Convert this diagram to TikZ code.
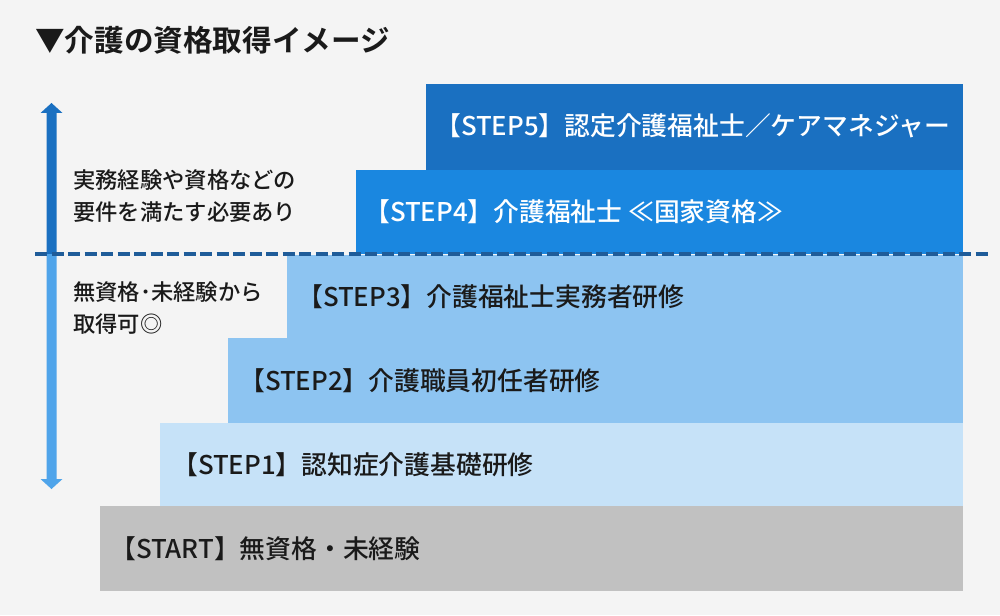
\documentclass[tikz,border=0pt]{standalone}
\usepackage{fontspec}
\setmainfont{Noto Sans CJK JP}[BoldFont={Noto Sans CJK JP Medium}]
\newfontfamily\heavyfont{Noto Sans CJK JP Bold}
\definecolor{bg}{HTML}{F4F4F4}
\definecolor{cstart}{HTML}{C1C1C1}
\definecolor{cone}{HTML}{C6E2F8}
\definecolor{cmid}{HTML}{8DC4F1}
\definecolor{cfour}{HTML}{1A87E0}
\definecolor{cfive}{HTML}{1A70C1}
\definecolor{carrow}{HTML}{4FA4EA}
\definecolor{cdash}{HTML}{1F5C99}
\definecolor{ctext}{HTML}{1A1A1A}
\begin{document}
\begin{tikzpicture}[x=1pt,y=-1pt,
  bar/.style={anchor=north west,inner sep=0pt,outer sep=0pt,draw=none},
  lbl/.style={anchor=west,inner sep=0pt,font=\fontsize{25.8}{25.8}\selectfont\bfseries,text=ctext},
  side/.style={anchor=west,inner sep=0pt,align=left,font=\fontsize{22.3}{32}\selectfont\bfseries,text=ctext},
  divider/.style={draw=cdash,line width=4pt,dash pattern=on 12pt off 4.5pt}]
\useasboundingbox[fill=bg] (0,0) rectangle (1000,615);
\node[anchor=west,inner sep=0pt,font=\fontsize{29.6}{29.6}\selectfont\heavyfont,text=ctext] (title) at (35,40) {▼介護の資格取得イメージ};
% bars
\node[bar,fill=cstart,minimum width=863pt,minimum height=85pt] (s0) at (100,506) {};
\node[bar,fill=cone,minimum width=803pt,minimum height=83pt] (s1) at (160,423) {};
\node[bar,fill=cmid,minimum width=735pt,minimum height=85pt] (s2) at (228,338) {};
\node[bar,fill=cmid,minimum width=676pt,minimum height=83pt] (s3) at (287,255) {};
\node[bar,fill=cfour,minimum width=607pt,minimum height=84pt] (s4) at (356,170) {};
\node[bar,fill=cfive,minimum width=537pt,minimum height=86pt] (s5) at (426,84) {};
% labels
\node[lbl] (t0) at ([xshift=10pt]s0.west) {【START】無資格・未経験};
\node[lbl] (t1) at ([xshift=12pt]s1.west) {【STEP1】認知症介護基礎研修};
\node[lbl] (t2) at ([xshift=11pt]s2.west) {【STEP2】介護職員初任者研修};
\node[lbl] (t3) at ([xshift=10pt]s3.west) {【STEP3】介護福祉士実務者研修};
\node[lbl,text=white] (t4) at ([xshift=8pt]s4.west) {【STEP4】介護福祉士 ≪国家資格≫};
\node[lbl,text=white] (t5) at ([xshift=9pt,yshift=1.5pt]s5.west) {【STEP5】認定介護福祉士／ケアマネジャー};
% side texts
\node[side] (n1) at (73,196) {実務経験や資格などの\\要件を満たす必要あり};
\node[side] (n2) at (73,308) {無資格･未経験から\\取得可◎};
% arrow
\fill[cfive] (46.5,113) -- (40.5,113) -- (51.5,103) -- (62.5,113) -- (56.5,113) -- (56.5,254) -- (46.5,254) -- cycle;
\fill[carrow] (46.5,254) -- (56.5,254) -- (56.5,479) -- (62.5,479) -- (51.5,489) -- (40.5,479) -- (46.5,479) -- cycle;
% dashed divider
\coordinate (dl) at (35,254);
\coordinate (dr) at (990,254);
\draw[divider] (dl) -- (dr);
\end{tikzpicture}
\end{document}
